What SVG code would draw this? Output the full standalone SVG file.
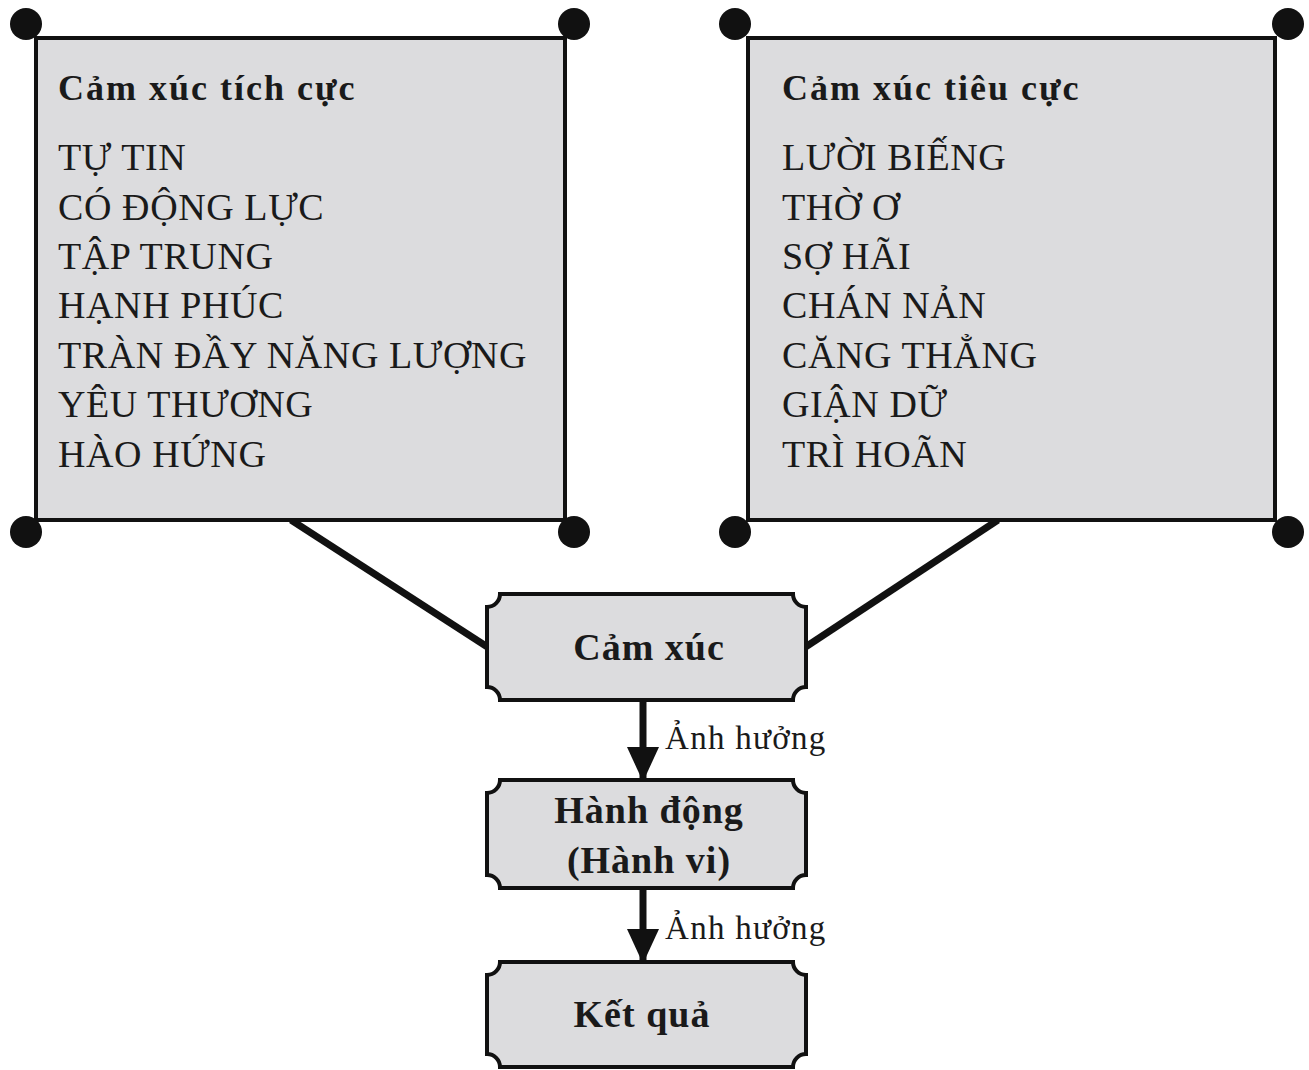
<svg xmlns="http://www.w3.org/2000/svg" width="1309" height="1070" viewBox="0 0 1309 1070">
<defs>
<style>
.box{fill:#dcdcde;stroke:#111;stroke-width:4}
.dot{fill:#111}
.ttl{font-family:"Liberation Serif",serif;font-weight:bold;font-size:36px;letter-spacing:2px;fill:#1a1a1a}
.itm{font-family:"Liberation Serif",serif;font-size:38px;letter-spacing:0.6px;fill:#1a1a1a}
.nd{font-family:"Liberation Serif",serif;font-weight:bold;font-size:38px;letter-spacing:1px;fill:#1a1a1a;text-anchor:middle}
.lbl{font-family:"Liberation Serif",serif;font-size:33px;letter-spacing:1.3px;fill:#1a1a1a}
.ln{stroke:#111;stroke-width:7;fill:none}
</style>
<marker id="ah" markerWidth="5" markerHeight="4.6" refX="4.6" refY="2.3" orient="auto" markerUnits="strokeWidth">
<path d="M0,0 L5,2.3 L0,4.6 Z" fill="#111"/>
</marker>
</defs>
<rect width="1309" height="1070" fill="#fff"/>
<g id="connectors">
<line class="ln" x1="291" y1="520" x2="489" y2="648"/>
<line class="ln" x1="998" y1="520" x2="804" y2="648"/>
<line class="ln" x1="643" y1="701" x2="643" y2="779" marker-end="url(#ah)"/>
<line class="ln" x1="643" y1="889" x2="643" y2="961" marker-end="url(#ah)"/>
<text class="lbl" x="665" y="749">Ảnh hưởng</text>
<text class="lbl" x="665" y="939">Ảnh hưởng</text>
</g>
<g id="positive">
<rect class="box" x="36" y="38" width="529" height="482"/>
<circle class="dot" cx="26" cy="24" r="16"/>
<circle class="dot" cx="574" cy="24" r="16"/>
<circle class="dot" cx="26" cy="532" r="16"/>
<circle class="dot" cx="574" cy="532" r="16"/>
<text class="ttl" x="58" y="100">Cảm xúc tích cực</text>
<text class="itm" x="58" y="170">TỰ TIN</text>
<text class="itm" x="58" y="220">CÓ ĐỘNG LỰC</text>
<text class="itm" x="58" y="269">TẬP TRUNG</text>
<text class="itm" x="58" y="318">HẠNH PHÚC</text>
<text class="itm" x="58" y="368">TRÀN ĐẦY NĂNG LƯỢNG</text>
<text class="itm" x="58" y="417">YÊU THƯƠNG</text>
<text class="itm" x="58" y="467">HÀO HỨNG</text>
</g>
<g id="negative">
<rect class="box" x="748" y="38" width="527" height="482"/>
<circle class="dot" cx="735" cy="24" r="16"/>
<circle class="dot" cx="1288" cy="24" r="16"/>
<circle class="dot" cx="735" cy="532" r="16"/>
<circle class="dot" cx="1288" cy="532" r="16"/>
<text class="ttl" x="782" y="100">Cảm xúc tiêu cực</text>
<text class="itm" x="782" y="170">LƯỜI BIẾNG</text>
<text class="itm" x="782" y="220">THỜ Ơ</text>
<text class="itm" x="782" y="269">SỢ HÃI</text>
<text class="itm" x="782" y="318">CHÁN NẢN</text>
<text class="itm" x="782" y="368">CĂNG THẲNG</text>
<text class="itm" x="782" y="417">GIẬN DỮ</text>
<text class="itm" x="782" y="467">TRÌ HOÃN</text>
</g>
<g id="emotion">
<path class="box" d="M500,594 H793 A13,13 0 0 0 806,607 V687 A13,13 0 0 0 793,700 H500 A13,13 0 0 0 487,687 V607 A13,13 0 0 0 500,594 Z"/>
<text class="nd" x="649" y="660">Cảm xúc</text>
</g>
<g id="action">
<path class="box" d="M500,780 H793 A13,13 0 0 0 806,793 V875 A13,13 0 0 0 793,888 H500 A13,13 0 0 0 487,875 V793 A13,13 0 0 0 500,780 Z"/>
<text class="nd" x="649" y="823">Hành động</text>
<text class="nd" x="649" y="873">(Hành vi)</text>
</g>
<g id="result">
<path class="box" d="M500,962 H793 A13,13 0 0 0 806,975 V1054 A13,13 0 0 0 793,1067 H500 A13,13 0 0 0 487,1054 V975 A13,13 0 0 0 500,962 Z"/>
<text class="nd" x="642" y="1027">Kết quả</text>
</g>
</svg>
